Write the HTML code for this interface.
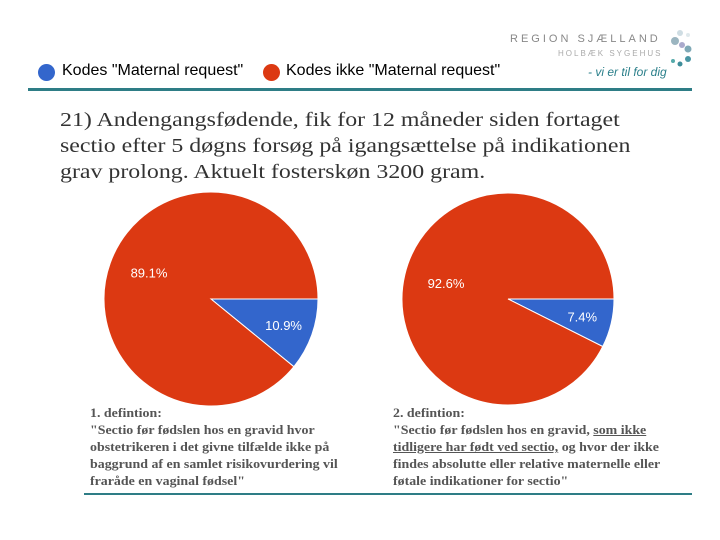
<!DOCTYPE html>
<html><head><meta charset="utf-8"><style>
body{margin:0;width:720px;height:540px;background:#fff;position:relative;overflow:hidden;font-family:"Liberation Sans",sans-serif}
.t{position:absolute}
.title{left:60px;top:107px;font-family:"Liberation Serif",serif;font-size:20.5px;line-height:26px;color:#333;transform:scaleX(1.165);transform-origin:left top;white-space:nowrap}
.def{position:absolute;font-family:"Liberation Serif",serif;font-weight:bold;font-size:13px;line-height:17px;color:#555;transform:scaleX(1.07);transform-origin:left top;white-space:nowrap}
</style></head><body>
<div class="t" style="left:508px;top:33px;width:190px;height:55px">
 <div style="position:absolute;left:2px;top:0;font-size:11px;letter-spacing:3px;color:#888">REGION SJÆLLAND</div>
 <div style="position:absolute;left:50px;top:16px;font-size:8px;letter-spacing:2px;color:#aaa">HOLBÆK SYGEHUS</div>
 <div style="position:absolute;left:80px;top:32px;font-size:12px;font-style:italic;color:#2a7f8a">- vi er til for dig</div>
 <svg style="position:absolute;left:160px;top:-6px" width="30" height="50">
  <circle cx="12" cy="6" r="3" fill="#cfdde3"/><circle cx="20" cy="8" r="2" fill="#dfe8ec"/><circle cx="7" cy="14" r="4" fill="#9bb5c0"/><circle cx="14" cy="18" r="3" fill="#aac"/><circle cx="20" cy="22" r="3.5" fill="#7fa9b6"/><circle cx="20" cy="32" r="3" fill="#4a96a4"/><circle cx="12" cy="37" r="2.5" fill="#3f8d9a"/><circle cx="5" cy="34" r="2" fill="#5aa"/>
 </svg>
</div>
<div>
 <div class="t" style="left:38px;top:64px;width:17px;height:17px;border-radius:50%;background:#3366cc"></div>
 <div class="t" style="left:62px;top:62px;font-size:16px">Kodes "Maternal request"</div>
 <div class="t" style="left:263px;top:64px;width:17px;height:17px;border-radius:50%;background:#dc3912"></div>
 <div class="t" style="left:286px;top:62px;font-size:16px">Kodes ikke "Maternal request"</div>
</div>
<div class="t" style="left:28px;top:88px;width:664px;height:3px;background:#2e7d86"></div>
<div class="t title">21) Andengangsfødende, fik for 12 måneder siden fortaget<br>sectio efter 5 døgns forsøg på igangsættelse på indikationen<br>grav prolong. Aktuelt fosterskøn 3200 gram.</div>
<svg class="t" style="left:0;top:0" width="720" height="540" id="pies"></svg>
<div class="def" style="left:90px;top:404px">1. defintion:<br>"Sectio før fødslen hos en gravid hvor<br>obstetrikeren i det givne tilfælde ikke på<br>baggrund af en samlet risikovurdering vil<br>fraråde en vaginal fødsel"</div>
<div class="def" style="left:393px;top:404px">2. defintion:<br>"Sectio før fødslen hos en gravid, <u>som ikke<br>tidligere har født ved sectio,</u> og hvor der ikke<br>findes absolutte eller relative maternelle eller<br>føtale indikationer for sectio"</div>
<div class="t" style="left:84px;top:493px;width:608px;height:2px;background:#2e7d86"></div>
<script>
const categories=["Kodes \"Maternal request\"","Kodes ikke \"Maternal request\""];
const chart1Values=[10.9,89.1];
const chart2Values=[7.4,92.6];
const colors=["#3366cc","#dc3912"];
const svg=document.getElementById('pies');
const NS="http://www.w3.org/2000/svg";
function pt(cx,cy,r,frac){const a=frac*2*Math.PI;return [cx+r*Math.cos(a),cy+r*Math.sin(a)];}
function drawPie(vals,cx,cy,r,name){
 const tot=vals.reduce((a,b)=>a+b,0);let start=0;
 vals.forEach((v,i)=>{
  const f=v/tot;const [x1,y1]=pt(cx,cy,r,start);const [x2,y2]=pt(cx,cy,r,start+f);
  const p=document.createElementNS(NS,'path');
  p.setAttribute('d',`M${cx},${cy}L${x1},${y1}A${r},${r} 0 ${f>0.5?1:0} 1 ${x2},${y2}Z`);
  p.setAttribute('fill',colors[i]);p.setAttribute('stroke','#fff');p.setAttribute('stroke-width','1');
  
  
  svg.appendChild(p);
  const mid=start+f/2;const lr=f<0.5?r*0.72:r*0.78;
  let [lx,ly]=pt(cx,cy,lr,mid);
  if(f>0.5){ly=cy-27+(f-0.89)*300;lx=cx-62;}
  const t=document.createElementNS(NS,'text');
  t.setAttribute('x',lx);t.setAttribute('y',ly+5);t.setAttribute('text-anchor','middle');
  t.setAttribute('fill','#fff');t.setAttribute('font-size','13');t.setAttribute('font-family','Liberation Sans, sans-serif');
  t.textContent=v.toFixed(1)+'%';
  
  
  svg.appendChild(t);
  start+=f;
 });
}
drawPie(chart1Values,211,299,107,'pie-1');
drawPie(chart2Values,508,299,106,'pie-2');
</script>
</body></html>
